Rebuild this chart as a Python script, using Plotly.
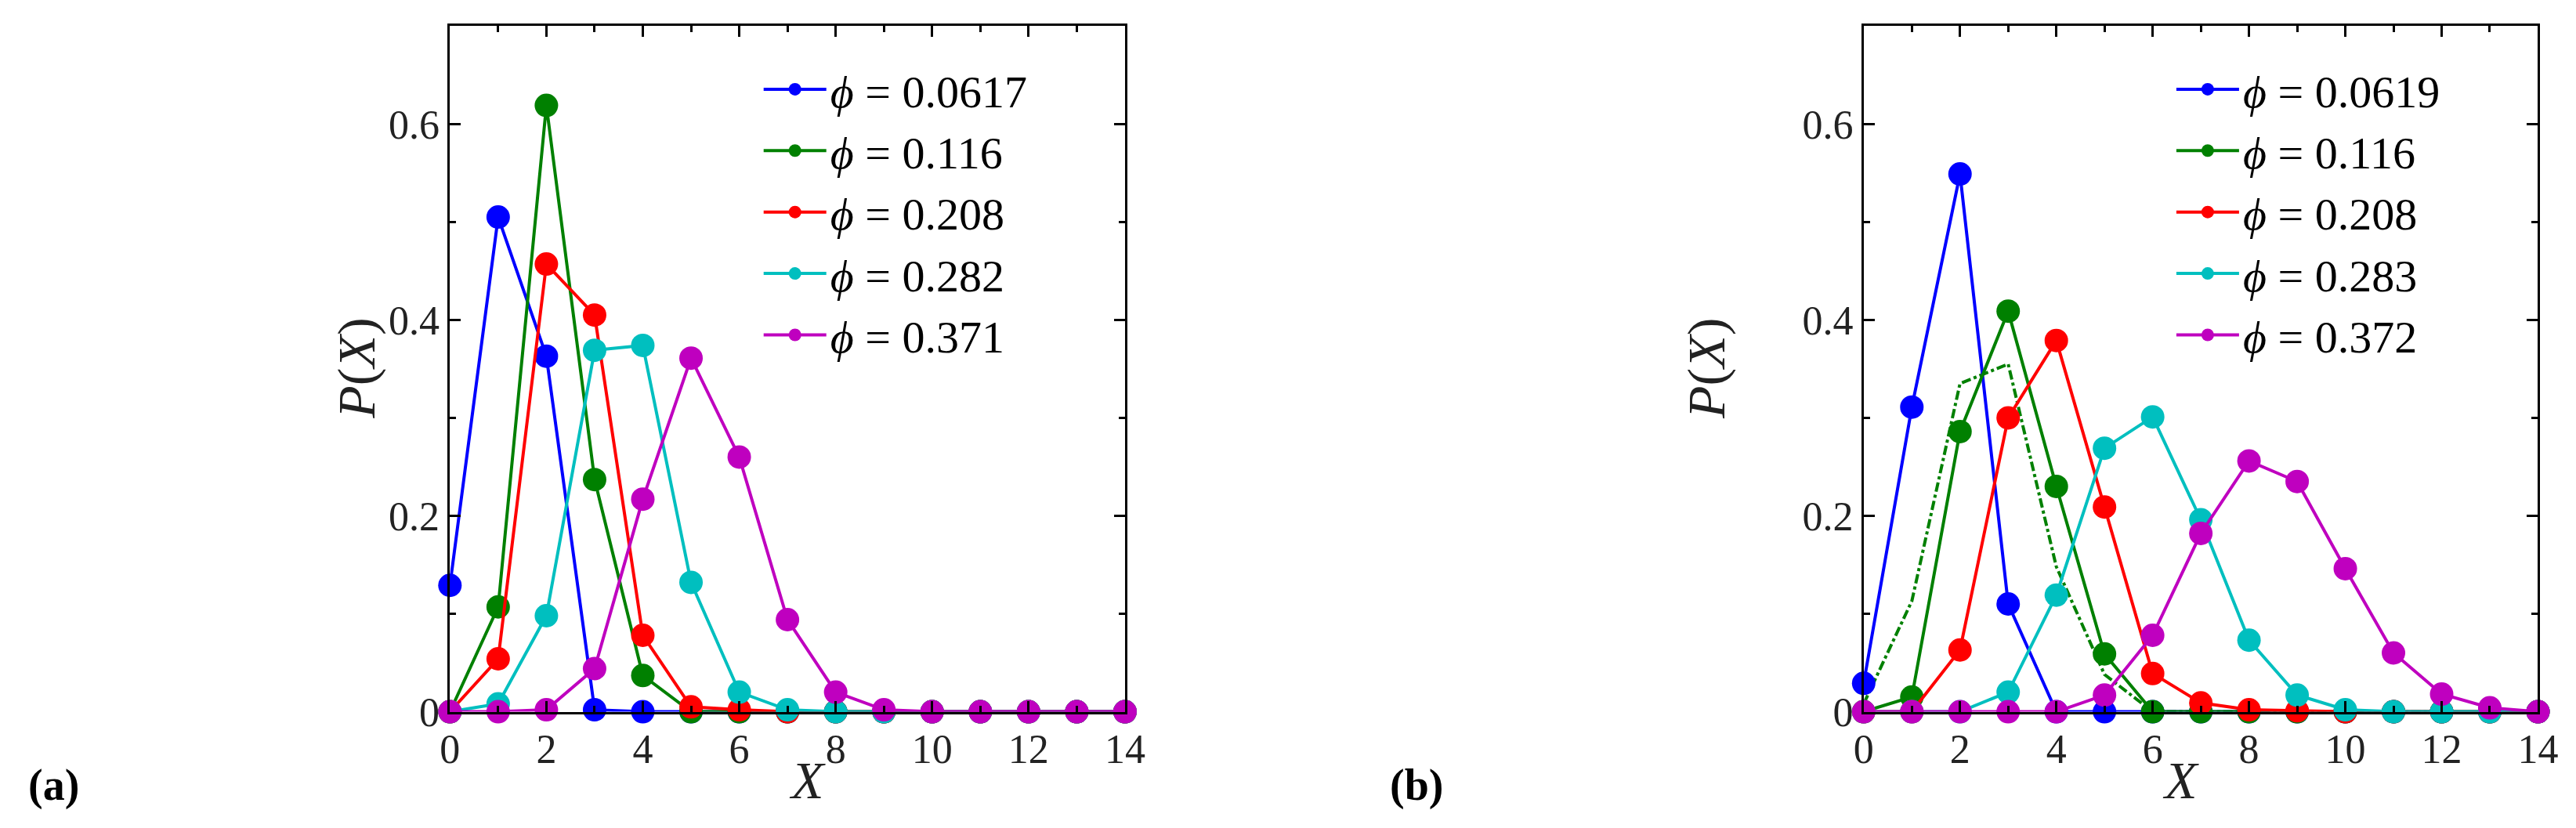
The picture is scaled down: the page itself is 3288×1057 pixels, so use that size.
import plotly.graph_objects as go

X = list(range(15))

# panel (a)
phi_a = ["0.0617", "0.116", "0.208", "0.282", "0.371"]
pa_blue = [0.129, 0.505, 0.363, 0.002, 0.0, 0, 0, 0, 0, 0, 0, 0, 0, 0, 0]
pa_green = [0.0, 0.107, 0.619, 0.237, 0.037, 0.0, 0, 0, 0, 0, 0, 0, 0, 0, 0]
pa_red = [0.0, 0.054, 0.457, 0.405, 0.078, 0.005, 0.002, 0.0, 0, 0, 0, 0, 0, 0, 0]
pa_cyan = [0.0, 0.008, 0.098, 0.369, 0.374, 0.132, 0.020, 0.002, 0.0, 0.0, 0, 0, 0, 0, 0]
pa_magenta = [0.0, 0.0, 0.002, 0.044, 0.217, 0.361, 0.260, 0.094, 0.020, 0.002, 0, 0, 0, 0, 0]

# panel (b)
phi_b = ["0.0619", "0.116", "0.208", "0.283", "0.372"]
pb_blue = [0.029, 0.311, 0.549, 0.110, 0.0, 0, 0, 0, 0, 0, 0, 0, 0, 0, 0]
pb_green = [0.0, 0.015, 0.286, 0.409, 0.230, 0.059, 0.0, 0.0, 0, 0, 0, 0, 0, 0, 0]
pb_red = [0.0, 0.0, 0.063, 0.300, 0.379, 0.209, 0.039, 0.009, 0.002, 0.001, 0.0, 0, 0, 0, 0]
pb_cyan = [0.0, 0.0, 0.0, 0.020, 0.119, 0.269, 0.301, 0.196, 0.073, 0.017, 0.002, 0.0, 0.0, 0.0, 0.0]
pb_magenta = [0.0, 0.0, 0.0, 0.0, 0.0, 0.017, 0.078, 0.182, 0.256, 0.235, 0.146, 0.060, 0.018, 0.004, 0.0]
X_dash = list(range(13))
pb_green_dash = [0.008, 0.113, 0.335, 0.355, 0.148, 0.038, 0.0, 0, 0, 0, 0, 0, 0]

colors = ["#0000ff", "#008000", "#ff0000", "#00bfbf", "#bf00bf"]
FONT = "Liberation Serif"

fig = go.Figure()

def add_panel(series, phis, xa, ya, leg):
    for ys, ph, c in zip(series, phis, colors):
        fig.add_trace(go.Scatter(
            x=X, y=ys, mode="lines+markers", name="<i>\u03d5</i> = " + ph,
            line=dict(color=c, width=4), marker=dict(color=c, size=30),
            cliponaxis=False, xaxis=xa, yaxis=ya, legend=leg))

add_panel([pa_blue, pa_green, pa_red, pa_cyan, pa_magenta], phi_a, "x", "y", "legend")
fig.add_trace(go.Scatter(x=X_dash, y=pb_green_dash, mode="lines",
                         line=dict(color="#008000", width=4, dash="dashdot"),
                         showlegend=False, xaxis="x2", yaxis="y2"))
add_panel([pb_blue, pb_green, pb_red, pb_cyan, pb_magenta], phi_b, "x2", "y2", "legend2")

ax = dict(showline=True, linecolor="black", linewidth=3, mirror="allticks",
          ticks="inside", ticklen=14, tickwidth=3, tickcolor="black",
          showgrid=False, zeroline=False,
          tickfont=dict(family=FONT, size=52, color="#222"))
xax = dict(ax, range=[0, 14], dtick=2, tick0=0,
           minor=dict(dtick=1, ticks="inside", ticklen=8, tickwidth=3, tickcolor="black"))
yax = dict(ax, range=[0, 0.7], tickvals=[0, 0.2, 0.4, 0.6], ticktext=["0", "0.2", "0.4", "0.6"],
           minor=dict(dtick=0.1, ticks="inside", ticklen=8, tickwidth=3, tickcolor="black"))

ydom = [0.124, 0.9754]
leg = dict(font=dict(family=FONT, size=58, color="black"), bgcolor="rgba(0,0,0,0)",
           yanchor="top", xanchor="left", tracegroupgap=0, itemwidth=80)

fig.update_layout(
    width=3288, height=1057, margin=dict(l=0, r=0, t=0, b=0),
    plot_bgcolor="white", paper_bgcolor="white",
    xaxis=dict(xax, domain=[0.1703, 0.4355], anchor="y"),
    yaxis=dict(yax, domain=ydom, anchor="x"),
    xaxis2=dict(xax, domain=[0.7257, 0.9906], anchor="y2"),
    yaxis2=dict(yax, domain=ydom, anchor="x2"),
    legend=dict(leg, x=0.292, y=0.94),
    legend2=dict(leg, x=0.847, y=0.94),
)

for xp in [0.3029, 0.8582]:
    fig.add_annotation(x=xp, y=0.0, xref="paper", yref="paper", text="<i>X</i>", showarrow=False,
                       yanchor="bottom", font=dict(family=FONT, size=68, color="#222"))
for xp in [0.121, 0.676]:
    fig.add_annotation(x=xp, y=0.55, xref="paper", yref="paper", text="<i>P</i>(<i>X</i>)",
                       showarrow=False, textangle=-90,
                       font=dict(family=FONT, size=68, color="#222"))
for xp, t in [(0.004, "<b>(a)</b>"), (0.539, "<b>(b)</b>")]:
    fig.add_annotation(x=xp, y=0.0, xref="paper", yref="paper", text=t, showarrow=False,
                       xanchor="left", yanchor="bottom", font=dict(family=FONT, size=56, color="black"))

fig.write_html("out.html")
